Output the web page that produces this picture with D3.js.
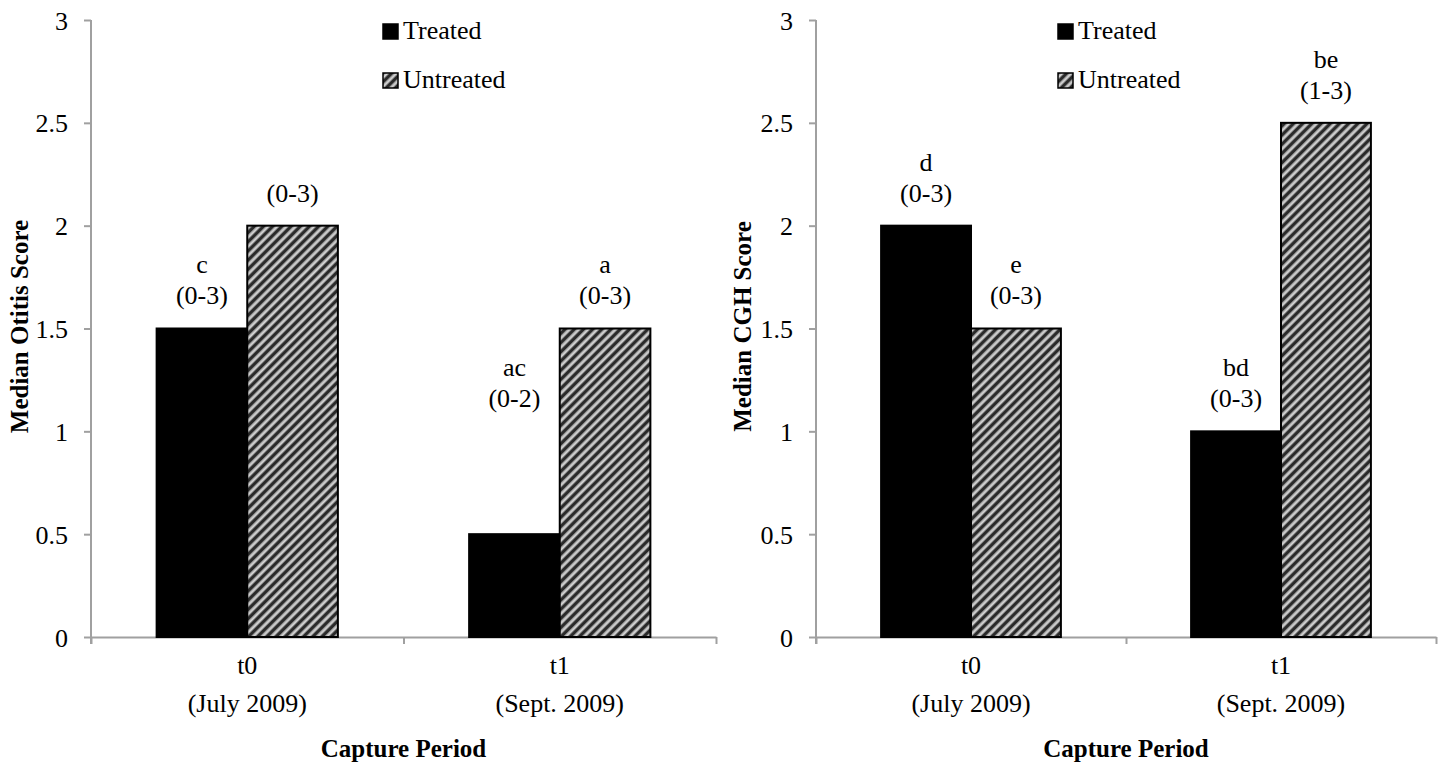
<!DOCTYPE html>
<html>
<head>
<meta charset="utf-8">
<script src="https://cdn.jsdelivr.net/npm/d3@7"></script>
<style>
  body { margin: 0; background: #fff; }
  text { font-family: "Liberation Serif", "Times New Roman", serif; fill: #000; }
  .axis path, .axis line { stroke: #a0a0a0; stroke-width: 2; }
  .axisTitle { font-weight: bold; }
</style>
</head>
<body>
<div id="chart"></div>
<script>
//Chart data
var categories = ["t0", "t1"];
var categoryDates = ["(July 2009)", "(Sept. 2009)"];
var seriesNames = ["Treated", "Untreated"];
var yTicks = [0, 0.5, 1, 1.5, 2, 2.5, 3];

var otitisTreated = [1.5, 0.5];
var otitisUntreated = [2, 1.5];
var otitisTreatedLetters = ["c", "ac"];
var otitisUntreatedLetters = ["", "a"];
var otitisTreatedRanges = ["(0-3)", "(0-2)"];
var otitisUntreatedRanges = ["(0-3)", "(0-3)"];
var otitisTreatedLabelAt = [1.5, 1];
var otitisUntreatedLabelAt = [2, 1.5];

var cghTreated = [2, 1];
var cghUntreated = [1.5, 2.5];
var cghTreatedLetters = ["d", "bd"];
var cghUntreatedLetters = ["e", "be"];
var cghTreatedRanges = ["(0-3)", "(0-3)"];
var cghUntreatedRanges = ["(0-3)", "(1-3)"];
var cghTreatedLabelAt = [2, 1];
var cghUntreatedLabelAt = [1.5, 2.5];

var svgWidth = 1445;
var svgHeight = 767;
var fontSize = "26px";

var svg = d3.select("#chart")
    .append("svg")
    .attr("width", svgWidth)
    .attr("height", svgHeight);

//Hatch pattern for untreated bars
var defs = svg.append("defs");
var pattern = defs.append("pattern")
    .attr("id", "hatch")
    .attr("patternUnits", "userSpaceOnUse")
    .attr("width", 6.5)
    .attr("height", 6.5)
    .attr("patternTransform", "rotate(45)");
pattern.append("rect")
    .attr("width", 6.5).attr("height", 6.5)
    .attr("fill", "#dcdcdc");
pattern.append("rect")
    .attr("x", 0).attr("width", 3).attr("height", 6.5)
    .attr("fill", "#2a2a2a");
pattern.append("rect")
    .attr("x", 3).attr("width", 1).attr("height", 6.5)
    .attr("fill", "#8a8a8a");
pattern.append("rect")
    .attr("x", 5.5).attr("width", 1).attr("height", 6.5)
    .attr("fill", "#8a8a8a");

function buildRows(treated, untreated, tLetters, uLetters, tRanges, uRanges, tAt, uAt) {
    var rows = [];
    categories.forEach(function(c, i) {
        rows.push({cat: c, series: "Treated", value: treated[i], letter: tLetters[i], range: tRanges[i], labelAt: tAt[i]});
        rows.push({cat: c, series: "Untreated", value: untreated[i], letter: uLetters[i], range: uRanges[i], labelAt: uAt[i]});
    });
    return rows;
}

function drawChart(opts) {
    var width = opts.width;
    var height = 617;
    var g = svg.append("g")
        .attr("transform", `translate(${opts.left}, 20)`);

    var y = d3.scaleLinear().domain([0, 3]).range([height, 0]);
    var x0 = d3.scaleBand().domain(categories).range([0, width]);
    var bw = x0.bandwidth();
    var x1 = d3.scaleBand().domain(seriesNames).range([bw * 0.21, bw * 0.79]);
    var xb = d3.scaleLinear().domain([0, categories.length]).range([0, width]);

    //Y axis
    var yAxis = g.append("g")
        .attr("class", "axis")
        .call(d3.axisLeft(y).tickValues(yTicks).tickSize(7).tickSizeOuter(0).tickFormat(d => String(d)));
    yAxis.selectAll("text")
        .attr("x", -23)
        .attr("dy", "0.35em")
        .style("font-size", fontSize)
        .style("font-family", "Liberation Serif");

    //X axis
    var xAxis = g.append("g")
        .attr("class", "axis")
        .attr("transform", `translate(0, ${height})`)
        .call(d3.axisBottom(xb).tickValues(d3.range(categories.length + 1)).tickSize(7).tickSizeOuter(0).tickFormat(""));
    yAxis.select(".domain").attr("d", `M0,0V${height + 7}`);

    //Category labels
    categories.forEach(function(c, i) {
        var cx = x0(c) + bw / 2;
        g.append("text")
            .attr("x", cx).attr("y", height + 31)
            .attr("text-anchor", "middle")
            .attr("dominant-baseline", "middle")
            .style("font-size", fontSize)
            .text(c);
        g.append("text")
            .attr("x", cx).attr("y", height + 69)
            .attr("text-anchor", "middle")
            .attr("dominant-baseline", "middle")
            .style("font-size", fontSize)
            .text(categoryDates[i]);
    });

    //Bars
    g.selectAll("rect.bar")
        .data(opts.rows)
        .enter()
        .append("rect")
        .attr("class", "bar")
        .attr("x", d => x0(d.cat) + x1(d.series))
        .attr("y", d => y(d.value))
        .attr("width", x1.bandwidth())
        .attr("height", d => height - y(d.value))
        .attr("fill", d => d.series === "Treated" ? "#000" : "url(#hatch)")
        .attr("stroke", "#000")
        .attr("stroke-width", 2);

    //Bar labels
    var labels = g.selectAll("g.barLabel")
        .data(opts.rows)
        .enter()
        .append("g")
        .attr("class", "barLabel")
        .attr("transform", d => `translate(${x0(d.cat) + x1(d.series) + x1.bandwidth() / 2}, ${y(d.labelAt)})`);
    labels.append("text")
        .attr("y", -61)
        .attr("text-anchor", "middle")
        .attr("dominant-baseline", "middle")
        .style("font-size", fontSize)
        .text(d => d.letter);
    labels.append("text")
        .attr("y", -30)
        .attr("text-anchor", "middle")
        .attr("dominant-baseline", "middle")
        .style("font-size", fontSize)
        .text(d => d.range);

    //Legend
    var legend = g.selectAll("g.legend")
        .data(seriesNames)
        .enter()
        .append("g")
        .attr("class", "legend")
        .attr("transform", (d, i) => `translate(${opts.legendX}, ${11 + i * 49})`);
    legend.append("rect")
        .attr("x", 0).attr("y", -7)
        .attr("width", 15).attr("height", 15)
        .attr("fill", d => d === "Treated" ? "#000" : "url(#hatch)")
        .attr("stroke", "#000")
        .attr("stroke-width", 1.5);
    legend.append("text")
        .attr("x", 20)
        .attr("y", 2)
        .attr("dominant-baseline", "middle")
        .style("font-size", fontSize)
        .text(d => d);

    //Axis titles
    g.append("text")
        .attr("class", "axisTitle")
        .attr("transform", "rotate(-90)")
        .attr("x", -height / 2 + 2)
        .attr("y", opts.titleX)
        .attr("text-anchor", "middle")
        .attr("dominant-baseline", "middle")
        .style("font-size", "25px")
        .text(opts.yTitle);

    g.append("text")
        .attr("class", "axisTitle")
        .attr("x", width / 2)
        .attr("y", height + 114)
        .attr("text-anchor", "middle")
        .attr("dominant-baseline", "middle")
        .style("font-size", "25px")
        .text("Capture Period");
}

drawChart({
    left: 91,
    width: 625,
    legendX: 292,
    titleX: -69,
    yTitle: "Median Otitis Score",
    rows: buildRows(otitisTreated, otitisUntreated, otitisTreatedLetters, otitisUntreatedLetters,
        otitisTreatedRanges, otitisUntreatedRanges, otitisTreatedLabelAt, otitisUntreatedLabelAt)
});

drawChart({
    left: 816,
    width: 620,
    legendX: 242,
    titleX: -71,
    yTitle: "Median CGH Score",
    rows: buildRows(cghTreated, cghUntreated, cghTreatedLetters, cghUntreatedLetters,
        cghTreatedRanges, cghUntreatedRanges, cghTreatedLabelAt, cghUntreatedLabelAt)
});
</script>
</body>
</html>
